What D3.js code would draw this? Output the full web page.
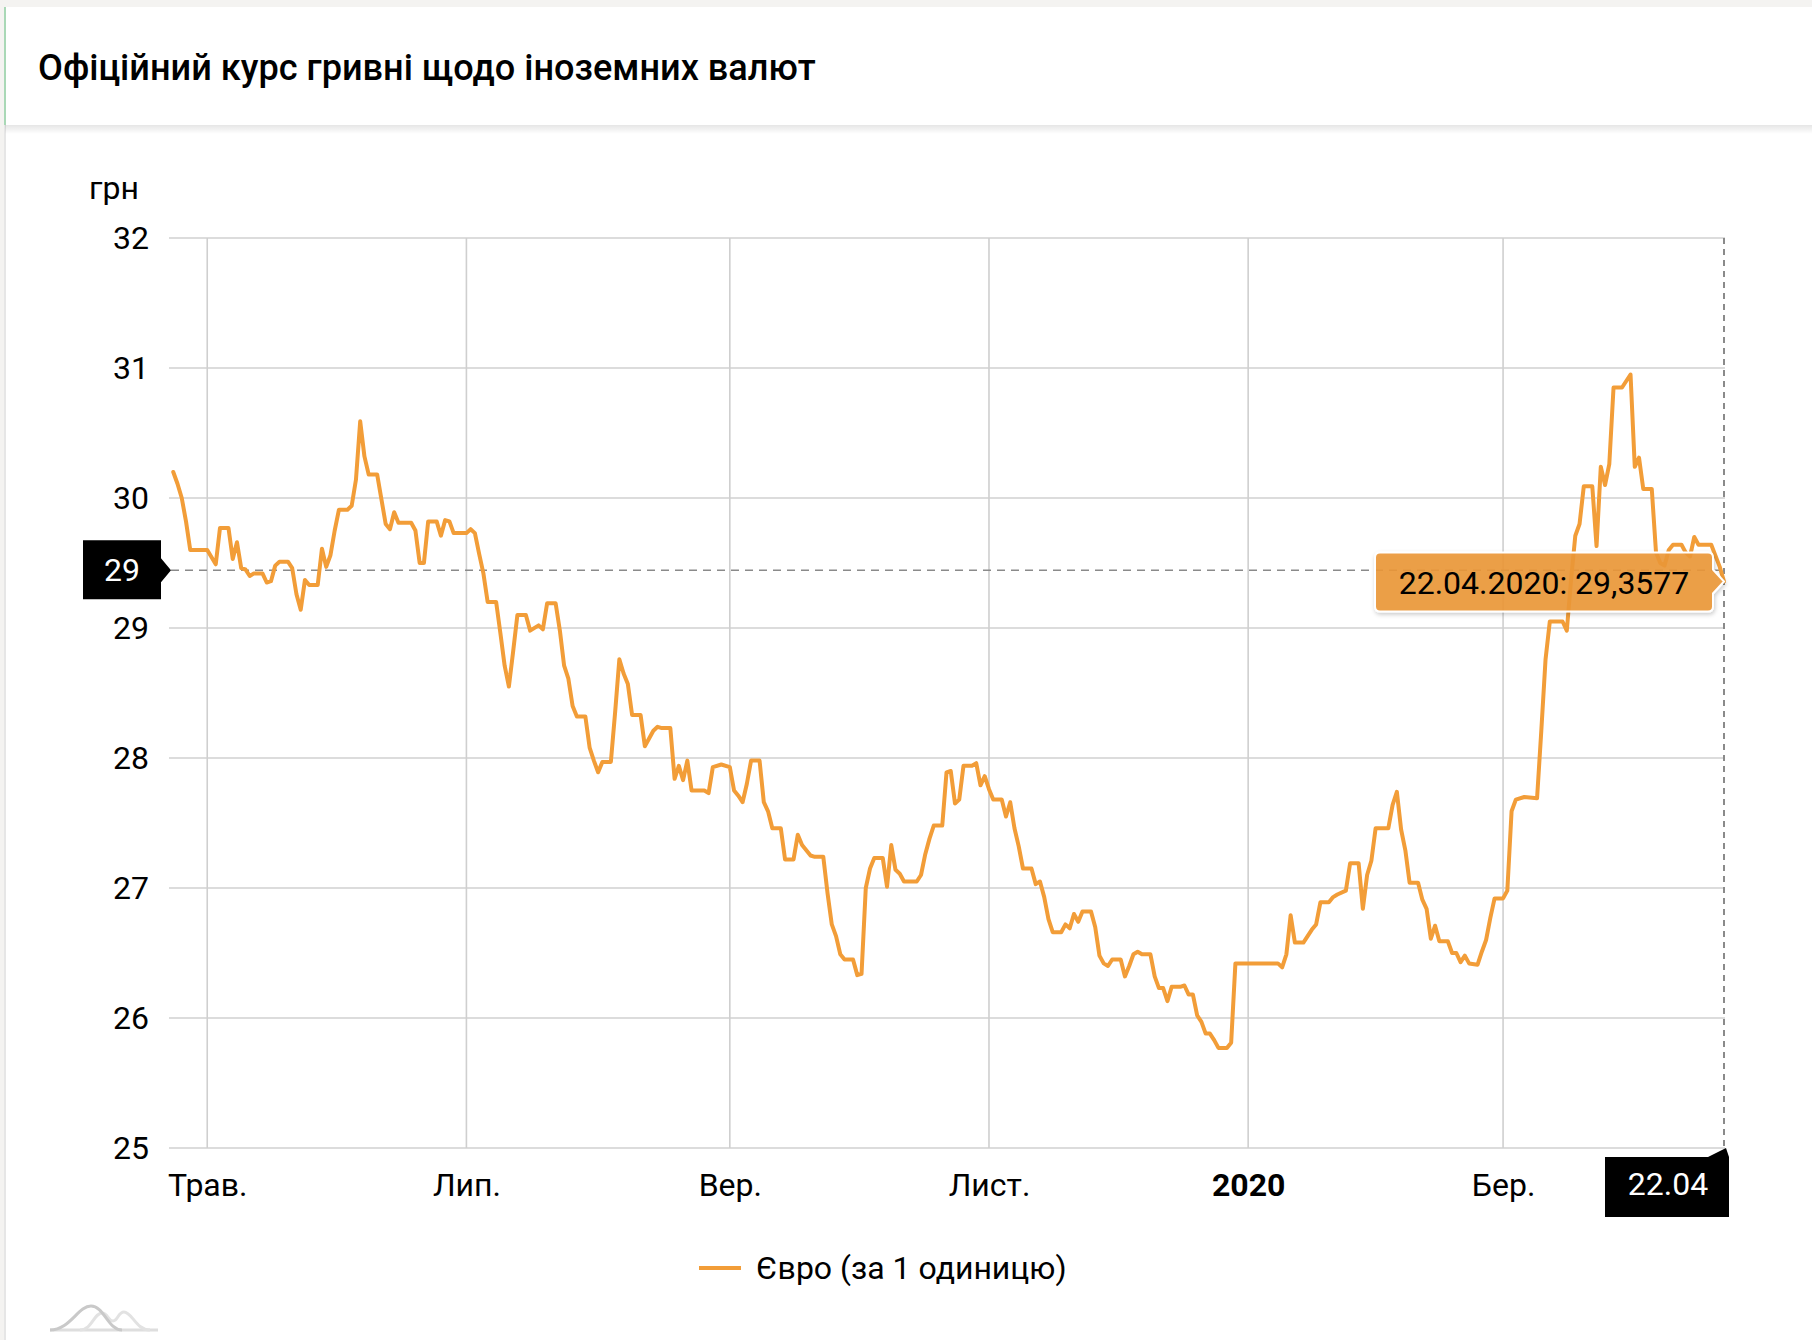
<!DOCTYPE html>
<html><head><meta charset="utf-8">
<script src="https://cdn.jsdelivr.net/npm/d3@7"></script>
<style>
html,body{margin:0;padding:0;background:#f4f3f1;overflow:hidden;}
svg{display:block;font-family:Roboto,"Noto Sans",sans-serif;}
</style></head><body>
<svg id="chart" width="1812" height="1340"></svg>
<script>
const title = "Офіційний курс гривні щодо іноземних валют";
const unitLabel = "грн";
const seriesName = "Євро (за 1 одиницю)";
const yTicks = [25, 26, 27, 28, 29, 30, 31, 32];
const xTickDates = ["2019-05-01", "2019-07-01", "2019-09-01", "2019-11-01", "2020-01-01", "2020-03-01"];
const xTickLabels = ["Трав.", "Лип.", "Вер.", "Лист.", "2020", "Бер."];
const xTickBold = [false, false, false, false, true, false];
const xDomain = ["2019-04-22", "2020-04-22"];
const hoverDate = "2020-04-22";
const hoverDateLabel = "22.04";
const hoverTooltip = "22.04.2020: 29,3577";
const crosshairValue = 29.444;

const dates = [
"2019-04-23","2019-04-24","2019-04-25","2019-04-26","2019-04-27","2019-05-01","2019-05-03","2019-05-04","2019-05-06","2019-05-07",
"2019-05-08","2019-05-09","2019-05-10","2019-05-11","2019-05-12","2019-05-14","2019-05-15","2019-05-16","2019-05-17","2019-05-18",
"2019-05-20","2019-05-21","2019-05-22","2019-05-23","2019-05-24","2019-05-25","2019-05-27","2019-05-28","2019-05-29","2019-05-30",
"2019-05-31","2019-06-01","2019-06-03","2019-06-04","2019-06-05","2019-06-06","2019-06-07","2019-06-08","2019-06-10","2019-06-11",
"2019-06-12","2019-06-13","2019-06-14","2019-06-15","2019-06-18","2019-06-19","2019-06-20","2019-06-21","2019-06-22","2019-06-24",
"2019-06-25","2019-06-26","2019-06-27","2019-06-28","2019-07-01","2019-07-02","2019-07-03","2019-07-04","2019-07-05","2019-07-06",
"2019-07-08","2019-07-09","2019-07-10","2019-07-11","2019-07-12","2019-07-13","2019-07-15","2019-07-16","2019-07-18","2019-07-19",
"2019-07-20","2019-07-22","2019-07-23","2019-07-24","2019-07-25","2019-07-26","2019-07-27","2019-07-29","2019-07-30","2019-07-31",
"2019-08-01","2019-08-02","2019-08-04","2019-08-05","2019-08-06","2019-08-07","2019-08-08","2019-08-09","2019-08-11","2019-08-12",
"2019-08-13","2019-08-14","2019-08-15","2019-08-16","2019-08-18","2019-08-19","2019-08-20","2019-08-21","2019-08-22","2019-08-23",
"2019-08-26","2019-08-27","2019-08-28","2019-08-30","2019-09-01","2019-09-02","2019-09-03","2019-09-04","2019-09-05","2019-09-06",
"2019-09-08","2019-09-09","2019-09-10","2019-09-11","2019-09-13","2019-09-14","2019-09-16","2019-09-17","2019-09-18","2019-09-19",
"2019-09-20","2019-09-21","2019-09-23","2019-09-24","2019-09-25","2019-09-26","2019-09-27","2019-09-28","2019-09-30","2019-10-01",
"2019-10-02","2019-10-03","2019-10-04","2019-10-05","2019-10-07","2019-10-08","2019-10-09","2019-10-10","2019-10-11","2019-10-12",
"2019-10-15","2019-10-16","2019-10-17","2019-10-18","2019-10-19","2019-10-21","2019-10-22","2019-10-23","2019-10-24","2019-10-25",
"2019-10-26","2019-10-28","2019-10-29","2019-10-30","2019-10-31","2019-11-01","2019-11-02","2019-11-04","2019-11-05","2019-11-06",
"2019-11-07","2019-11-08","2019-11-09","2019-11-11","2019-11-12","2019-11-13","2019-11-14","2019-11-15","2019-11-16","2019-11-18",
"2019-11-19","2019-11-20","2019-11-21","2019-11-22","2019-11-23","2019-11-25","2019-11-26","2019-11-27","2019-11-28","2019-11-29",
"2019-11-30","2019-12-02","2019-12-03","2019-12-04","2019-12-05","2019-12-06","2019-12-07","2019-12-09","2019-12-10","2019-12-11",
"2019-12-12","2019-12-13","2019-12-14","2019-12-16","2019-12-17","2019-12-18","2019-12-19","2019-12-20","2019-12-21","2019-12-22",
"2019-12-23","2019-12-24","2019-12-25","2019-12-27","2019-12-28","2019-12-29","2020-01-08","2020-01-09","2020-01-10","2020-01-11",
"2020-01-12","2020-01-14","2020-01-15","2020-01-16","2020-01-17","2020-01-18","2020-01-20","2020-01-21","2020-01-22","2020-01-24",
"2020-01-25","2020-01-27","2020-01-28","2020-01-29","2020-01-30","2020-01-31","2020-02-03","2020-02-04","2020-02-05","2020-02-06",
"2020-02-07","2020-02-08","2020-02-10","2020-02-11","2020-02-12","2020-02-13","2020-02-14","2020-02-15","2020-02-17","2020-02-18",
"2020-02-19","2020-02-20","2020-02-21","2020-02-22","2020-02-24","2020-02-25","2020-02-26","2020-02-27","2020-02-28","2020-03-01",
"2020-03-02","2020-03-03","2020-03-04","2020-03-06","2020-03-09","2020-03-10","2020-03-11","2020-03-12","2020-03-15","2020-03-16",
"2020-03-17","2020-03-18","2020-03-19","2020-03-20","2020-03-22","2020-03-23","2020-03-24","2020-03-25","2020-03-26","2020-03-27",
"2020-03-29","2020-03-31","2020-04-01","2020-04-02","2020-04-03","2020-04-05","2020-04-06","2020-04-07","2020-04-08","2020-04-09",
"2020-04-10","2020-04-12","2020-04-13","2020-04-14","2020-04-15","2020-04-16","2020-04-19","2020-04-21","2020-04-22"
];
const euroValues = [
30.20,30.11,30.00,29.82,29.60,29.60,29.49,29.77,29.77,29.53,
29.66,29.46,29.45,29.40,29.42,29.42,29.35,29.36,29.48,29.51,
29.51,29.46,29.26,29.14,29.37,29.33,29.33,29.61,29.47,29.56,
29.75,29.91,29.91,29.94,30.14,30.59,30.32,30.18,30.18,29.99,
29.80,29.76,29.89,29.81,29.81,29.75,29.50,29.50,29.82,29.82,
29.71,29.83,29.82,29.73,29.73,29.76,29.73,29.57,29.42,29.20,
29.20,28.96,28.71,28.55,28.82,29.10,29.10,28.98,29.02,28.99,
29.19,29.19,28.98,28.71,28.61,28.40,28.32,28.32,28.08,27.98,
27.89,27.97,27.97,28.35,28.76,28.65,28.57,28.33,28.33,28.09,
28.15,28.21,28.24,28.23,28.23,27.84,27.94,27.83,27.98,27.75,
27.75,27.73,27.93,27.95,27.93,27.75,27.71,27.66,27.80,27.98,
27.98,27.66,27.59,27.46,27.46,27.22,27.22,27.41,27.33,27.29,
27.25,27.24,27.24,26.96,26.72,26.63,26.49,26.45,26.45,26.33,
26.34,27.00,27.15,27.23,27.23,27.01,27.33,27.14,27.11,27.05,
27.05,27.10,27.26,27.38,27.48,27.48,27.89,27.90,27.65,27.68,
27.94,27.94,27.96,27.79,27.86,27.76,27.68,27.68,27.55,27.66,
27.46,27.32,27.15,27.15,27.03,27.05,26.93,26.76,26.66,26.66,
26.72,26.69,26.80,26.74,26.82,26.82,26.70,26.48,26.42,26.40,
26.45,26.45,26.32,26.40,26.49,26.51,26.49,26.49,26.32,26.23,
26.23,26.13,26.24,26.24,26.25,26.18,26.18,26.02,25.97,25.88,
25.88,25.83,25.77,25.77,25.81,26.42,26.42,26.39,26.49,26.79,
26.58,26.58,26.63,26.68,26.72,26.89,26.89,26.93,26.95,26.98,
27.19,27.19,26.84,27.10,27.21,27.46,27.46,27.64,27.74,27.45,
27.29,27.04,27.04,26.91,26.84,26.61,26.71,26.59,26.59,26.50,
26.50,26.43,26.48,26.42,26.41,26.51,26.60,26.77,26.92,26.92,
26.98,27.59,27.68,27.70,27.69,28.21,28.76,29.05,29.05,28.98,
29.37,29.71,29.80,30.09,30.09,29.63,30.24,30.10,30.26,30.85,
30.85,30.95,30.24,30.31,30.07,30.07,29.58,29.50,29.48,29.60,
29.64,29.64,29.58,29.55,29.70,29.64,29.64,29.47,29.3577
];

const parse = d3.timeParse("%Y-%m-%d");
const data = dates.map((d, i) => ({date: parse(d), value: euroValues[i]}));

const svg = d3.select("#chart");
const W = 1812, H = 1340;
const plot = {left: 169, right: 1724, top: 238, bottom: 1148};

// page / card
const defs = svg.append("defs");
const hg = defs.append("linearGradient").attr("id", "hshadow").attr("x1", 0).attr("y1", 0).attr("x2", 0).attr("y2", 1);
hg.append("stop").attr("offset", 0).attr("stop-color", "#000").attr("stop-opacity", 0.10);
hg.append("stop").attr("offset", 1).attr("stop-color", "#000").attr("stop-opacity", 0);
const ds = defs.append("filter").attr("id", "tshadow").attr("x", "-10%").attr("y", "-30%").attr("width", "130%").attr("height", "170%");
ds.append("feDropShadow").attr("dx", 1).attr("dy", 2).attr("stdDeviation", 2).attr("flood-color", "#000").attr("flood-opacity", 0.22);

svg.append("rect").attr("x", 0).attr("y", 0).attr("width", W).attr("height", H).attr("fill", "#f4f3f1");
svg.append("rect").attr("x", 5).attr("y", 7).attr("width", W - 5).attr("height", H - 7).attr("fill", "#ffffff");
svg.append("line").attr("x1", 5).attr("x2", 5).attr("y1", 125).attr("y2", H).attr("stroke", "#e6e6e6").attr("stroke-width", 2);
svg.append("rect").attr("x", 5).attr("y", 125).attr("width", W - 5).attr("height", 9).attr("fill", "url(#hshadow)");
svg.append("line").attr("x1", 5).attr("x2", 5).attr("y1", 7).attr("y2", 125).attr("stroke", "#a9d8b6").attr("stroke-width", 2);

const titleText = svg.append("text").attr("x", 38).attr("y", 80).attr("font-size", 36).attr("font-weight", 500)
  .attr("fill", "#000").text(title);
const tw = titleText.node().getComputedTextLength();
if (tw > 0) titleText.attr("font-size", 36 * 778 / tw);

// scales
const x = d3.scaleTime().domain(xDomain.map(parse)).range([plot.left, plot.right]);
const y = d3.scaleLinear().domain([25, 32]).range([plot.bottom, plot.top]);

// gridlines
svg.append("g").selectAll("line").data(yTicks).join("line")
  .attr("x1", plot.left).attr("x2", plot.right + 1)
  .attr("y1", d => y(d)).attr("y2", d => y(d))
  .attr("stroke", "#dcdcdc").attr("stroke-width", 2);
svg.append("g").selectAll("line").data(xTickDates.map(parse)).join("line")
  .attr("x1", d => x(d)).attr("x2", d => x(d))
  .attr("y1", plot.top).attr("y2", plot.bottom)
  .attr("stroke", "#cfcfcf").attr("stroke-width", 1.6);

// axes
const yAxis = svg.append("g").attr("transform", `translate(${plot.left},0)`)
  .call(d3.axisLeft(y).tickValues(yTicks).tickSize(0).tickPadding(20).tickFormat(d3.format("d")));
yAxis.select(".domain").remove();
yAxis.selectAll("text").attr("font-size", 32).attr("font-family", "Roboto").attr("fill", "#000");

const xAxis = svg.append("g").attr("transform", `translate(0,${plot.bottom})`)
  .call(d3.axisBottom(x).tickValues(xTickDates.map(parse)).tickSize(0).tickPadding(25)
    .tickFormat((d, i) => xTickLabels[i]));
xAxis.select(".domain").remove();
xAxis.selectAll("text").attr("font-size", 32).attr("font-family", "Roboto").attr("fill", "#000")
  .attr("font-weight", (d, i) => xTickBold[i] ? 700 : 400);

svg.append("text").attr("x", 89).attr("y", 199).attr("font-size", 32).attr("fill", "#000").text(unitLabel);

// crosshairs
const hx = x(parse(hoverDate));
const cy = y(crosshairValue);
svg.append("line").attr("x1", hx).attr("x2", hx).attr("y1", plot.top).attr("y2", plot.bottom)
  .attr("stroke", "#8a8a8a").attr("stroke-width", 2).attr("stroke-dasharray", "6,5");
svg.append("line").attr("x1", plot.left + 2).attr("x2", plot.right + 1).attr("y1", cy).attr("y2", cy)
  .attr("stroke", "#8a8a8a").attr("stroke-width", 1.6).attr("stroke-dasharray", "8,6");

// series line
const line = d3.line().x(d => x(d.date)).y(d => y(d.value));
svg.append("path").datum(data).attr("d", line).attr("fill", "none")
  .attr("stroke", "#f29d38").attr("stroke-width", 4).attr("stroke-linejoin", "round").attr("stroke-linecap", "round");

// y crosshair label
const yl = {l: 83, r: 161, t: cy - 30, b: cy + 29};
svg.append("path").attr("d", `M${yl.l},${yl.t}H${yl.r}V${cy - 12}L${plot.left + 2},${cy}L${yl.r},${cy + 12}V${yl.b}H${yl.l}Z`)
  .attr("fill", "#000");
svg.append("text").attr("x", (yl.l + yl.r) / 2).attr("y", cy).attr("dy", "0.35em")
  .attr("text-anchor", "middle").attr("font-size", 32).attr("fill", "#fff").text(d3.format(".0f")(crosshairValue));

// x crosshair label
const xl = {l: hx - 119, r: hx + 5, t: plot.bottom + 9, b: plot.bottom + 69};
svg.append("path").attr("d", `M${xl.l},${xl.t}H${hx - 16}L${hx + 2},${plot.bottom}L${xl.r},${xl.t}V${xl.b}H${xl.l}Z`)
  .attr("fill", "#000");
svg.append("text").attr("x", (xl.l + xl.r) / 2 + 1).attr("y", 1195)
  .attr("text-anchor", "middle").attr("font-size", 32).attr("fill", "#fff").text(hoverDateLabel);

// tooltip
const last = data[data.length - 1];
const px = x(last.date), py = y(last.value);
const tb = {l: px - 349, r: px - 11, t: py - 29, b: py + 30, rr: 5};
const tp = `M${tb.l + tb.rr},${tb.t}H${tb.r - tb.rr}Q${tb.r},${tb.t} ${tb.r},${tb.t + tb.rr}V${py - 12}L${px},${py}L${tb.r},${py + 12}V${tb.b - tb.rr}Q${tb.r},${tb.b} ${tb.r - tb.rr},${tb.b}H${tb.l + tb.rr}Q${tb.l},${tb.b} ${tb.l},${tb.b - tb.rr}V${tb.t + tb.rr}Q${tb.l},${tb.t} ${tb.l + tb.rr},${tb.t}Z`;
svg.append("path").attr("d", tp).attr("fill", "rgba(236,152,56,0.9)").attr("stroke", "#fff")
  .attr("stroke-width", 2).attr("filter", "url(#tshadow)");
svg.append("text").attr("x", (tb.l + tb.r) / 2).attr("y", py).attr("dy", "0.38em")
  .attr("text-anchor", "middle").attr("font-size", 32).attr("fill", "#000").text(hoverTooltip);

// legend
svg.append("line").attr("x1", 699).attr("x2", 741).attr("y1", 1268).attr("y2", 1268)
  .attr("stroke", "#f29d38").attr("stroke-width", 4);
svg.append("text").attr("x", 756).attr("y", 1268).attr("dy", "0.35em").attr("font-size", 32)
  .attr("fill", "#000").text(seriesName);

// bottom-left logo
const logo = svg.append("g");
logo.append("line").attr("x1", 50).attr("x2", 158).attr("y1", 1330).attr("y2", 1330)
  .attr("stroke", "#dedede").attr("stroke-width", 3);
logo.append("path").attr("d", "M80,1330 C92,1330 94,1313 102,1313 C108,1313 108,1321 113,1321 C118,1321 118,1312 124,1312 C132,1312 136,1330 150,1330")
  .attr("fill", "none").attr("stroke", "#e2e2e2").attr("stroke-width", 3);
logo.append("path").attr("d", "M50,1330 C70,1330 78,1306 91,1306 C104,1306 108,1330 122,1330")
  .attr("fill", "none").attr("stroke", "#c9c9c9").attr("stroke-width", 3);
</script>
</body></html>
